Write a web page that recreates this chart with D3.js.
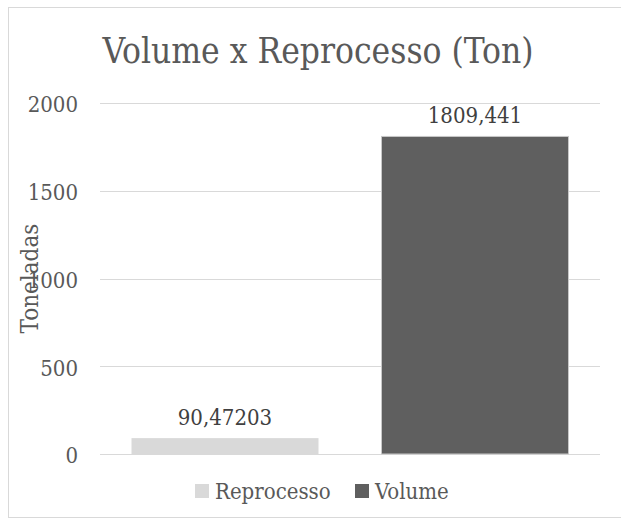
<!DOCTYPE html>
<html>
<head>
<meta charset="utf-8">
<script src="https://cdn.jsdelivr.net/npm/d3@7"></script>
<style>
  html, body { margin: 0; padding: 0; background: #fff; }
  svg text { font-family: "DejaVu Serif", "Liberation Serif", serif; font-stretch: condensed; }
</style>
</head>
<body>
<svg id="chart" width="621" height="524"></svg>
<script>
// Categories and values (toneladas)
const categories = ["Reprocesso", "Volume"];
const values = [90.47203, 1809.441];
const valueLabels = ["90,47203", "1809,441"];
const colors = ["#d9d9d9", "#5f5f5f"];
const yTicks = [0, 500, 1000, 1500, 2000];
const title = "Volume x Reprocesso (Ton)";
const yTitle = "Toneladas";

const svg = d3.select("#chart");
const W = 621, H = 524;
const plot = { left: 100, right: 600, top: 103, bottom: 454 };

// Outer frame (runs past the right edge)
svg.append("rect")
  .attr("x", 8.5).attr("y", 7.5)
  .attr("width", W + 20).attr("height", 510)
  .attr("fill", "#fff").attr("stroke", "#d9d9d9");

const x = d3.scaleBand()
  .domain(categories)
  .range([plot.left, plot.right])
  .paddingInner(0.252)
  .paddingOuter(0.126);

const y = d3.scaleLinear().domain([0, 2000]).range([plot.bottom, plot.top]);

// Gridlines
svg.append("g")
  .selectAll("line")
  .data(yTicks)
  .join("line")
  .attr("x1", plot.left).attr("x2", plot.right)
  .attr("y1", d => Math.round(y(d)) + 0.5).attr("y2", d => Math.round(y(d)) + 0.5)
  .attr("stroke", "#d9d9d9").attr("stroke-width", 1);

// Y axis labels
const yAxis = d3.axisLeft(y).tickValues(yTicks).tickSize(0).tickPadding(0).tickFormat(d3.format("d"));
const gy = svg.append("g").attr("transform", `translate(78,0)`).call(yAxis);
gy.select(".domain").remove();
gy.selectAll("text")
  .attr("fill", "#595959")
  .attr("font-size", 22)
  .attr("dy", "0.4em");

// Bars
svg.append("g")
  .selectAll("rect")
  .data(categories)
  .join("rect")
  .attr("x", d => x(d))
  .attr("width", x.bandwidth())
  .attr("y", (d, i) => y(values[i]))
  .attr("height", (d, i) => y(0) - y(values[i]))
  .attr("fill", (d, i) => colors[i])
  .attr("stroke", (d, i) => i === 1 ? "#c8c8c8" : "none")
  .attr("stroke-width", 1);

// Value labels
svg.append("g")
  .selectAll("text")
  .data(categories)
  .join("text")
  .attr("x", d => x(d) + x.bandwidth() / 2)
  .attr("y", (d, i) => y(values[i]) - 13)
  .attr("text-anchor", "middle")
  .attr("fill", "#404040")
  .attr("font-size", 22)
  .text((d, i) => valueLabels[i]);

// Title
svg.append("text")
  .attr("x", 318).attr("y", 63)
  .attr("text-anchor", "middle")
  .attr("fill", "#595959")
  .attr("font-size", 35)
  .text(title);

// Y axis title
svg.append("text")
  .attr("transform", `translate(38,${(plot.top + plot.bottom) / 2}) rotate(-90)`)
  .attr("text-anchor", "middle")
  .attr("fill", "#595959")
  .attr("font-size", 24)
  .text(yTitle);

// Legend
const legend = svg.append("g").attr("transform", "translate(195,484)");
const items = legend.selectAll("g")
  .data(categories)
  .join("g")
  .attr("transform", (d, i) => `translate(${i === 0 ? 0 : 160},0)`);
items.append("rect")
  .attr("width", 14).attr("height", 14)
  .attr("fill", (d, i) => colors[i]);
items.append("text")
  .attr("x", 20).attr("y", 15)
  .attr("fill", "#595959")
  .attr("font-size", 22)
  .text(d => d);
</script>
</body>
</html>
